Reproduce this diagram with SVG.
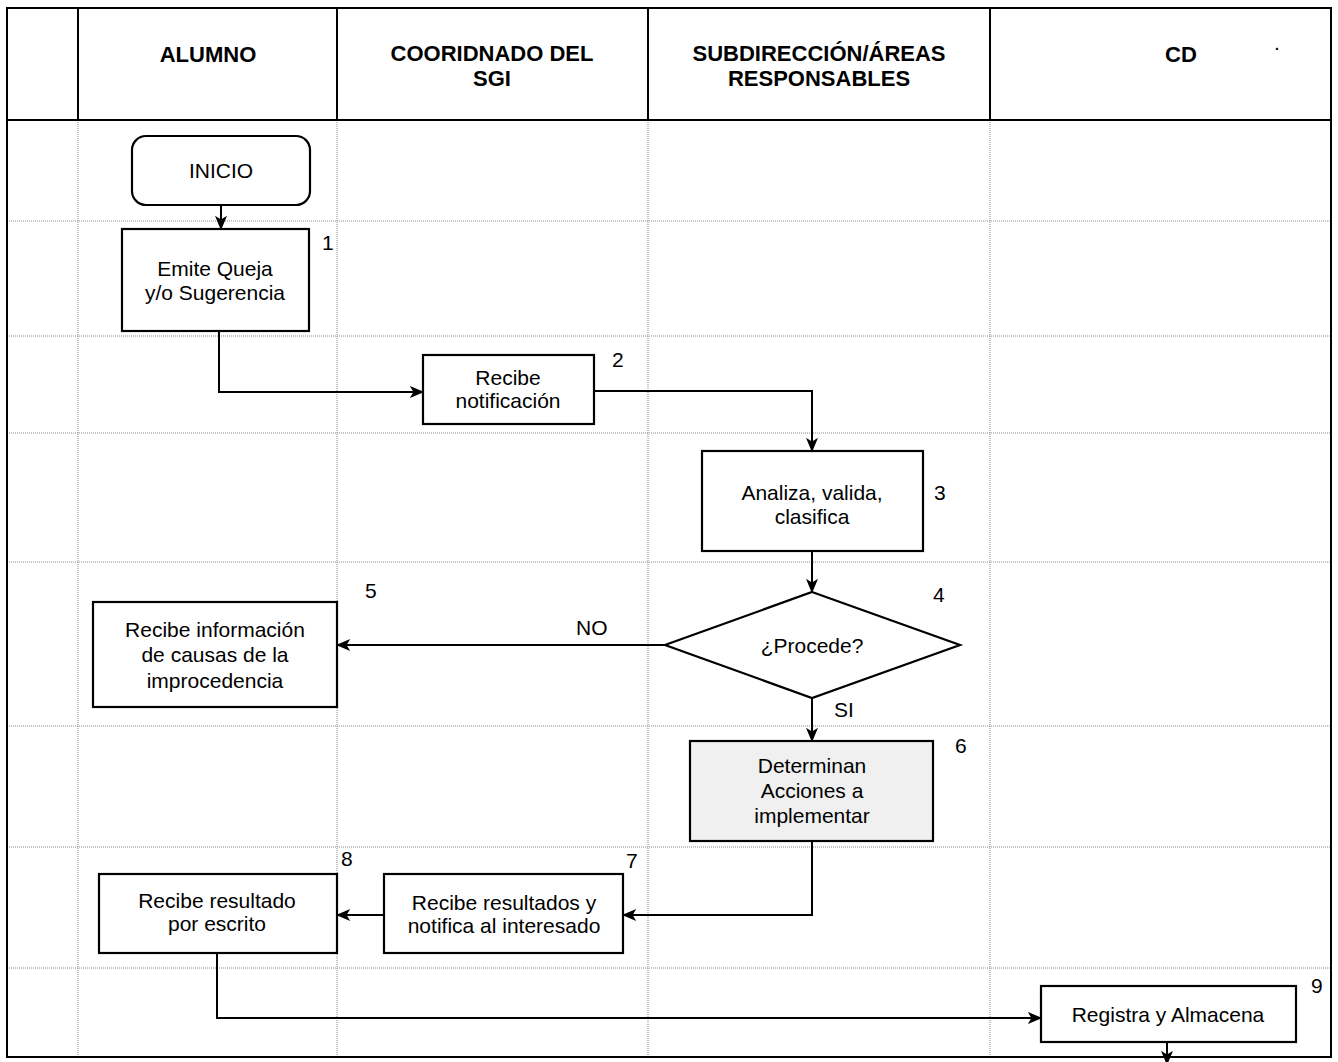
<svg xmlns="http://www.w3.org/2000/svg" width="1338" height="1062" viewBox="0 0 1338 1062">
<style>
.grid{stroke:#888;stroke-width:1;stroke-dasharray:1 1;fill:none}
.hdr{stroke:#000;stroke-width:2;fill:none}
.box{fill:#fff;stroke:#000;stroke-width:2.2}
.ht{font-family:"Liberation Sans",Arial,sans-serif;font-size:22px;font-weight:bold;text-anchor:middle;fill:#000}
.t{font-family:"Liberation Sans",Arial,sans-serif;font-size:21px;text-anchor:middle;fill:#000}
.n{font-family:"Liberation Sans",Arial,sans-serif;font-size:21px;fill:#000}
.c{stroke:#000;stroke-width:2;fill:none;marker-end:url(#ah)}
</style>
<defs>
<marker id="ah" viewBox="0 0 12 10" refX="11" refY="5" markerWidth="15" markerHeight="12" markerUnits="userSpaceOnUse" orient="auto">
<path d="M0,0 L12,5 L0,10 L3,5 Z" fill="#000"/>
</marker>
</defs>
<rect width="1338" height="1062" fill="#fff"/>
<g id="grid">
<line class="grid" x1="7" y1="221" x2="1331" y2="221"/>
<line class="grid" x1="7" y1="336" x2="1331" y2="336"/>
<line class="grid" x1="7" y1="433" x2="1331" y2="433"/>
<line class="grid" x1="7" y1="562" x2="1331" y2="562"/>
<line class="grid" x1="7" y1="726" x2="1331" y2="726"/>
<line class="grid" x1="7" y1="847" x2="1331" y2="847"/>
<line class="grid" x1="7" y1="968" x2="1331" y2="968"/>
<line class="grid" x1="78" y1="120" x2="78" y2="1057"/>
<line class="grid" x1="337" y1="120" x2="337" y2="1057"/>
<line class="grid" x1="648" y1="120" x2="648" y2="1057"/>
<line class="grid" x1="990" y1="120" x2="990" y2="1057"/>
<line class="hdr" x1="78" y1="8" x2="78" y2="120"/>
<line class="hdr" x1="337" y1="8" x2="337" y2="120"/>
<line class="hdr" x1="648" y1="8" x2="648" y2="120"/>
<line class="hdr" x1="990" y1="8" x2="990" y2="120"/>
<line class="hdr" x1="7" y1="120" x2="1331" y2="120"/>
<rect class="hdr" x="7" y="8" width="1324" height="1049"/>
</g>
<g id="headers">
<text class="ht" x="208" y="62">ALUMNO</text>
<text class="ht" x="492" y="61">COORIDNADO DEL</text>
<text class="ht" x="492" y="86">SGI</text>
<text class="ht" x="819" y="61">SUBDIRECCIÓN/ÁREAS</text>
<text class="ht" x="819" y="86">RESPONSABLES</text>
<text class="ht" x="1181" y="62">CD</text>
<text class="n" x="1274" y="50" font-size="12">.</text>
</g>
<g id="connectors">
<line class="c" x1="221" y1="206" x2="221" y2="229"/>
<polyline class="c" points="219,331 219,392 423,392"/>
<polyline class="c" points="594,391 812,391 812,451"/>
<line class="c" x1="812" y1="551" x2="812" y2="592"/>
<line class="c" x1="665" y1="645" x2="337" y2="645"/>
<line class="c" x1="812" y1="698" x2="812" y2="741"/>
<polyline class="c" points="812,841 812,915 623,915"/>
<line class="c" x1="384" y1="915" x2="337" y2="915"/>
<polyline class="c" points="217,953 217,1018 1041,1018"/>
<line class="c" x1="1167" y1="1042" x2="1167" y2="1064"/>
<text class="n" x="576" y="635">NO</text>
<text class="n" x="834" y="717">SI</text>
</g>
<g id="inicio">
<rect class="box" x="132" y="136" width="178" height="69" rx="14"/>
<text class="t" x="221" y="178">INICIO</text>
</g>
<g id="n1">
<rect class="box" x="122" y="229" width="187" height="102"/>
<text class="t" x="215" y="276">Emite Queja</text>
<text class="t" x="215" y="300">y/o Sugerencia</text>
<text class="n" x="322" y="250">1</text>
</g>
<g id="n2">
<rect class="box" x="423" y="355" width="171" height="69"/>
<text class="t" x="508" y="385">Recibe</text>
<text class="t" x="508" y="408">notificación</text>
<text class="n" x="612" y="367">2</text>
</g>
<g id="n3">
<rect class="box" x="702" y="451" width="221" height="100"/>
<text class="t" x="812" y="500">Analiza, valida,</text>
<text class="t" x="812" y="524">clasifica</text>
<text class="n" x="934" y="500">3</text>
</g>
<g id="n4">
<polygon class="box" points="812,592 960,645 812,698 665,645"/>
<text class="t" x="812" y="653">¿Procede?</text>
<text class="n" x="933" y="602">4</text>
</g>
<g id="n5">
<rect class="box" x="93" y="602" width="244" height="105"/>
<text class="t" x="215" y="637">Recibe información</text>
<text class="t" x="215" y="662">de causas de  la</text>
<text class="t" x="215" y="688">improcedencia</text>
<text class="n" x="365" y="598">5</text>
</g>
<g id="n6">
<rect class="box" x="690" y="741" width="243" height="100" style="fill:#f0f0f0"/>
<text class="t" x="812" y="773">Determinan</text>
<text class="t" x="812" y="798">Acciones a</text>
<text class="t" x="812" y="823">implementar</text>
<text class="n" x="955" y="753">6</text>
</g>
<g id="n7">
<rect class="box" x="384" y="874" width="239" height="79"/>
<text class="t" x="504" y="910">Recibe resultados y</text>
<text class="t" x="504" y="933">notifica al interesado</text>
<text class="n" x="626" y="868">7</text>
</g>
<g id="n8">
<rect class="box" x="99" y="874" width="238" height="79"/>
<text class="t" x="217" y="908">Recibe resultado</text>
<text class="t" x="217" y="931">por escrito</text>
<text class="n" x="341" y="866">8</text>
</g>
<g id="n9">
<rect class="box" x="1041" y="986" width="255" height="56"/>
<text class="t" x="1168" y="1022">Registra y Almacena</text>
<text class="n" x="1311" y="993">9</text>
</g>
</svg>
